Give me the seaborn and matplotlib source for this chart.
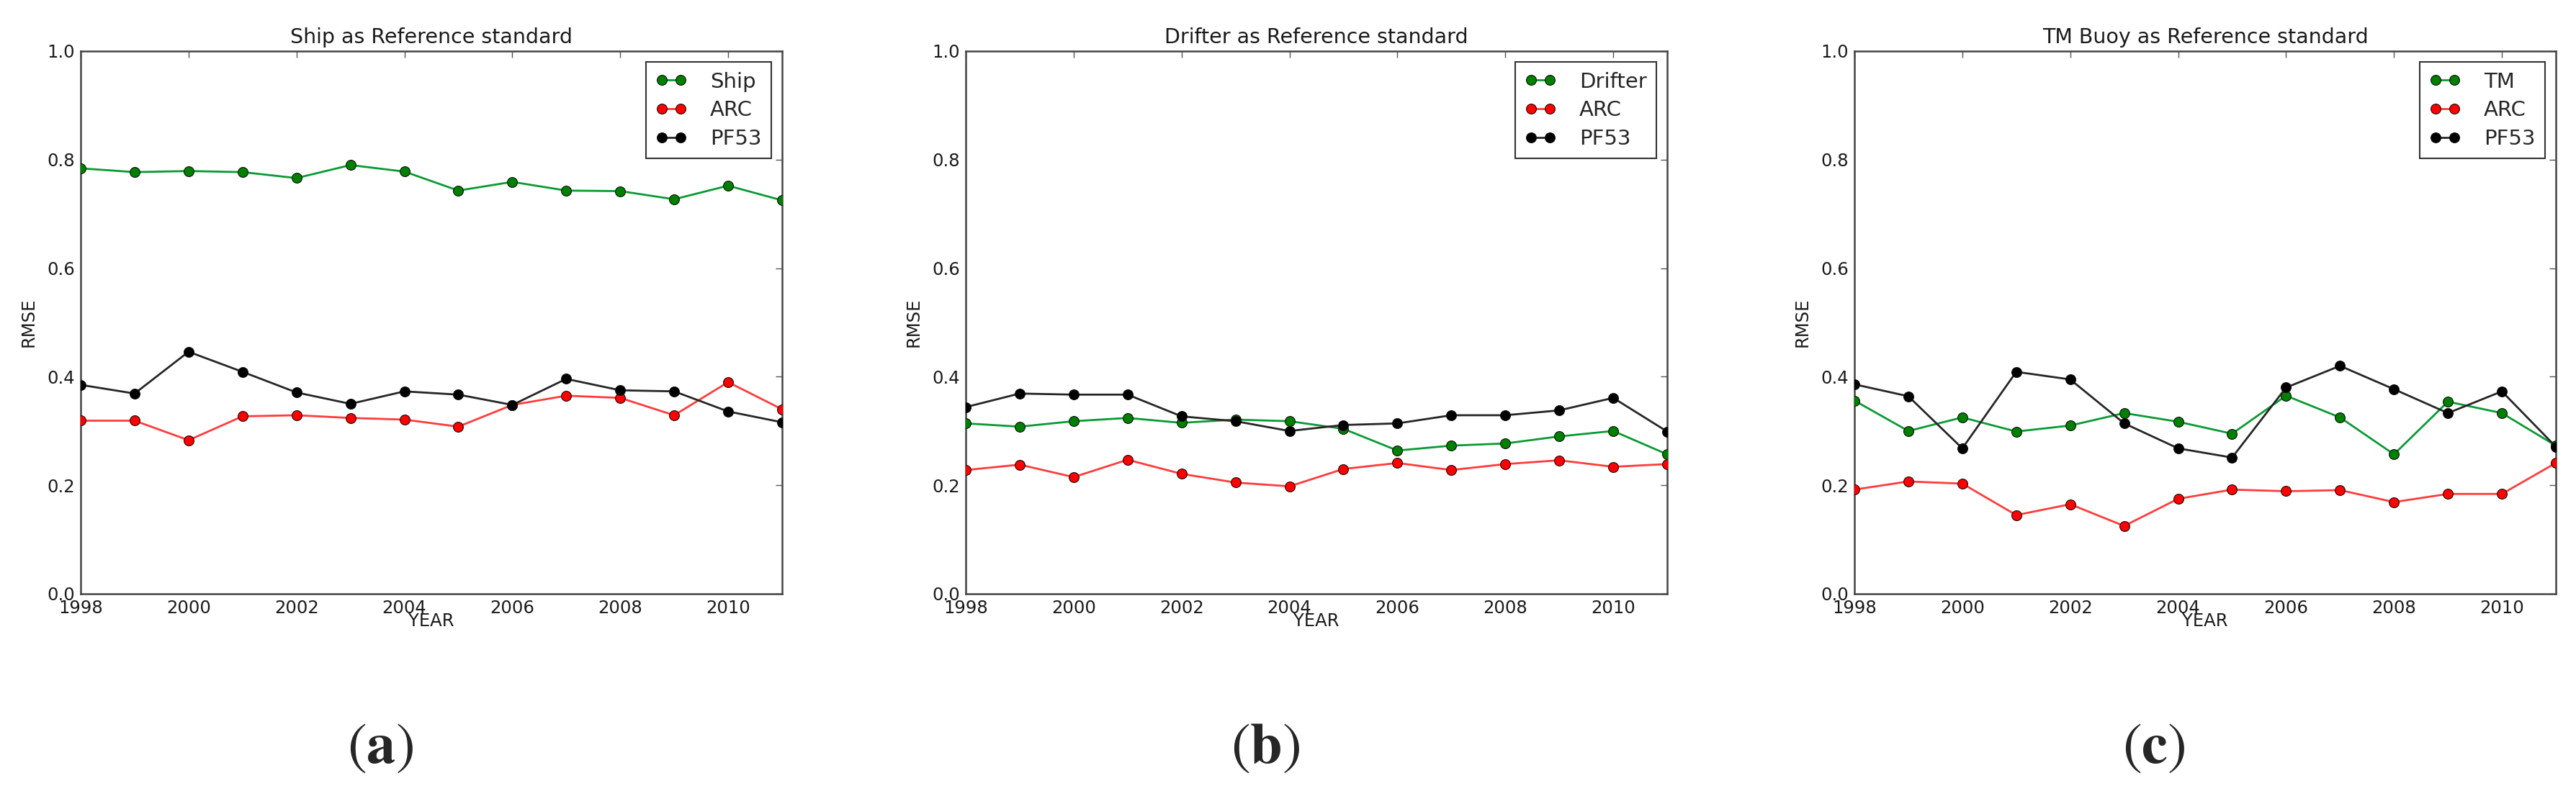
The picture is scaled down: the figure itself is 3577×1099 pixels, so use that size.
import numpy as np
import pandas as pd
import seaborn as sns
import matplotlib.pyplot as plt

years = list(range(1998, 2012))

# (a) Ship as reference
ship_ship = [0.784, 0.777, 0.779, 0.777, 0.766, 0.790, 0.778, 0.743, 0.759, 0.743, 0.742, 0.727, 0.752, 0.725]
ship_arc = [0.319, 0.319, 0.283, 0.327, 0.329, 0.324, 0.321, 0.308, 0.348, 0.365, 0.361, 0.329, 0.390, 0.340]
ship_pf53 = [0.385, 0.369, 0.446, 0.409, 0.371, 0.350, 0.373, 0.367, 0.348, 0.396, 0.375, 0.373, 0.336, 0.316]

# (b) Drifter as reference
drifter_drifter = [0.314, 0.308, 0.318, 0.324, 0.315, 0.321, 0.318, 0.304, 0.264, 0.273, 0.277, 0.290, 0.300, 0.257]
drifter_arc = [0.228, 0.238, 0.215, 0.247, 0.221, 0.205, 0.198, 0.230, 0.241, 0.228, 0.239, 0.246, 0.234, 0.239]
drifter_pf53 = [0.344, 0.369, 0.367, 0.367, 0.327, 0.318, 0.300, 0.311, 0.314, 0.329, 0.329, 0.338, 0.361, 0.299]

# (c) TM Buoy as reference
tm_tm = [0.356, 0.300, 0.325, 0.299, 0.310, 0.333, 0.317, 0.295, 0.365, 0.325, 0.257, 0.354, 0.333, 0.273]
tm_arc = [0.192, 0.207, 0.203, 0.145, 0.165, 0.125, 0.175, 0.192, 0.189, 0.191, 0.169, 0.184, 0.184, 0.241]
tm_pf53 = [0.386, 0.364, 0.268, 0.409, 0.395, 0.314, 0.268, 0.251, 0.380, 0.420, 0.377, 0.333, 0.373, 0.271]

panels = [
    ("Ship as Reference standard", "Ship", ship_ship, ship_arc, ship_pf53, "a"),
    ("Drifter as Reference standard", "Drifter", drifter_drifter, drifter_arc, drifter_pf53, "b"),
    ("TM Buoy as Reference standard", "TM", tm_tm, tm_arc, tm_pf53, "c"),
]

sns.set_theme(style="white")
plt.rcParams["font.family"] = ["DejaVu Sans"]
plt.rcParams["mathtext.fontset"] = "stix"

W, H = 3577, 1099
fig = plt.figure(figsize=(W / 100, H / 100), dpi=100)

lefts = [112, 1341, 2575]
ax_w, ax_b, ax_t = 974, 825, 71

# (line colour, marker colour) per series
styles = [
    ("#0a9a35", "#007f00"),
    ("#ff3c3c", "#ff0000"),
    ("#262626", "#000000"),
]

for left, (title, ref_name, s1, s2, s3, tag) in zip(lefts, panels):
    ax = fig.add_axes([left / W, (H - ax_b) / H, ax_w / W, (ax_b - ax_t) / H])
    for vals, name, (lc, mc) in zip([s1, s2, s3], [ref_name, "ARC", "PF53"], styles):
        df = pd.DataFrame({"YEAR": years, "RMSE": vals})
        sns.lineplot(data=df, x="YEAR", y="RMSE", ax=ax, color=lc, lw=2.0,
                     marker="o", markersize=10, markerfacecolor=mc,
                     markeredgecolor="#111111", markeredgewidth=0.8,
                     label=name, legend=False, zorder=3)
    ax.set_xlim(1998, 2011)
    ax.set_ylim(0, 1.0)
    ax.set_xticks(range(1998, 2011, 2))
    ax.set_yticks(np.arange(0, 1.01, 0.2))
    ax.set_yticklabels([f"{v:.1f}" for v in np.arange(0, 1.01, 0.2)])
    ax.tick_params(direction="in", top=True, right=True, length=6.5, width=1,
                   color="#555555", labelsize=17.5, pad=6, labelcolor="#1a1a1a")
    for sp in ax.spines.values():
        sp.set_color("#444444")
        sp.set_linewidth(1.8)
    ax.set_title(title, fontsize=20.5, pad=8, color="#1a1a1a")
    ax.set_xlabel("YEAR", fontsize=17.5, color="#1a1a1a")
    ax.set_ylabel("RMSE", fontsize=17.5, color="#1a1a1a")
    ax.xaxis.set_label_coords(0.5, -0.035)
    ax.yaxis.set_label_coords(-0.062, 0.5)
    leg = ax.legend(loc="upper right", fontsize=21, numpoints=2, fancybox=False,
                    framealpha=1, edgecolor="#333333", handlelength=1.5,
                    handletextpad=1.1, labelspacing=0.4, borderpad=0.45,
                    borderaxespad=0.53)
    leg.get_frame().set_linewidth(1.5)
    fig.text((left + 416) / W, 1 - 1038 / H, r"$(\mathbf{%s})$" % tag,
             fontsize=58, ha="center", va="center")

fig.savefig("out.png", dpi=100)
